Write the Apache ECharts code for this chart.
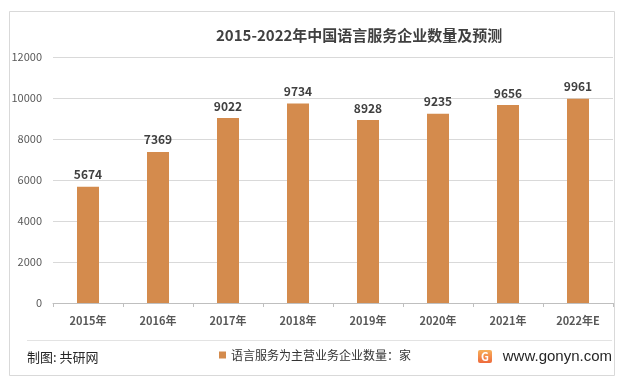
<!DOCTYPE html>
<html><head><meta charset="utf-8">
<script src="https://cdn.jsdelivr.net/npm/echarts@6/dist/echarts.min.js"></script>
<style>html,body{margin:0;padding:0;background:#fff}#c{width:621px;height:383px}</style>
</head><body><div id="c"></div>
<script>
const categories = ['2015年','2016年','2017年','2018年','2019年','2020年','2021年','2022年E'];
const values = [5674,7369,9022,9734,8928,9235,9656,9961];
const seriesName = '语言服务为主营业务企业数量：家';
const titleText = '2015-2022年中国语言服务企业数量及预测';
const yTicks = {min:0, max:12000, interval:2000};

const FONT = '"Noto Sans CJK SC","Noto Sans",sans-serif';
const chart = echarts.init(document.getElementById('c'), null, {renderer:'canvas'});
chart.setOption({
  animation:false,
  backgroundColor:'#fff',
  textStyle:{fontFamily:FONT},
  title:{text:titleText,left:211,top:23,textStyle:{fontSize:15,fontWeight:'bold',color:'#404040',fontFamily:FONT}},
  grid:{left:53,right:8,top:57,bottom:80},
  legend:{show:true,left:219,top:349,padding:0,itemWidth:7,itemHeight:7,icon:'rect',
    textStyle:{fontSize:12,color:'#333333',fontFamily:FONT},data:[seriesName]},
  xAxis:{type:'category',data:categories,
    axisLine:{lineStyle:{color:'#bfbfbf'}},
    axisTick:{show:true,length:4,lineStyle:{color:'#bfbfbf'}},
    axisLabel:{fontSize:11,color:'#595959',margin:12,fontWeight:'bold',fontFamily:FONT}},
  yAxis:{type:'value',min:yTicks.min,max:yTicks.max,interval:yTicks.interval,
    axisLine:{show:false},axisTick:{show:false},
    splitLine:{lineStyle:{color:'#d9d9d9'}},
    axisLabel:{fontSize:11,color:'#595959',margin:11,fontFamily:FONT,formatter:v=>String(v)}},
  series:[{name:seriesName,type:'bar',data:values,barWidth:22,
    itemStyle:{color:'#d48b4d'},
    label:{show:true,position:'top',distance:6,fontSize:12,fontWeight:'bold',color:'#404040',fontFamily:FONT}}],
  graphic:[
    {type:'rect',shape:{x:9.5,y:11.5,width:605,height:364},style:{fill:'none',stroke:'#d9d9d9',lineWidth:1},silent:true,z:-1},
    {type:'line',shape:{x1:27,y1:340.5,x2:612,y2:340.5},style:{stroke:'#e3e3e3',lineWidth:1}},
    {type:'text',x:27,y:357,style:{text:'制图: 共研网',fontSize:13,fill:'#262626',verticalAlign:'middle',fontFamily:FONT}},
    {type:'rect',shape:{x:478,y:350,width:14,height:13,r:2},
      style:{fill:new echarts.graphic.LinearGradient(0,0,0,1,[{offset:0,color:'#f7b05a'},{offset:1,color:'#ee6a3c'}])}},
    {type:'text',x:485,y:357,style:{text:'G',fontSize:11,fontWeight:'bold',fill:'#fff',align:'center',verticalAlign:'middle',fontFamily:FONT}},
    {type:'text',x:612,y:357,style:{text:'www.gonyn.com',fontSize:15,fill:'#262626',align:'right',verticalAlign:'middle',fontFamily:'"Liberation Sans",sans-serif'}}
  ]
});
</script></body></html>
